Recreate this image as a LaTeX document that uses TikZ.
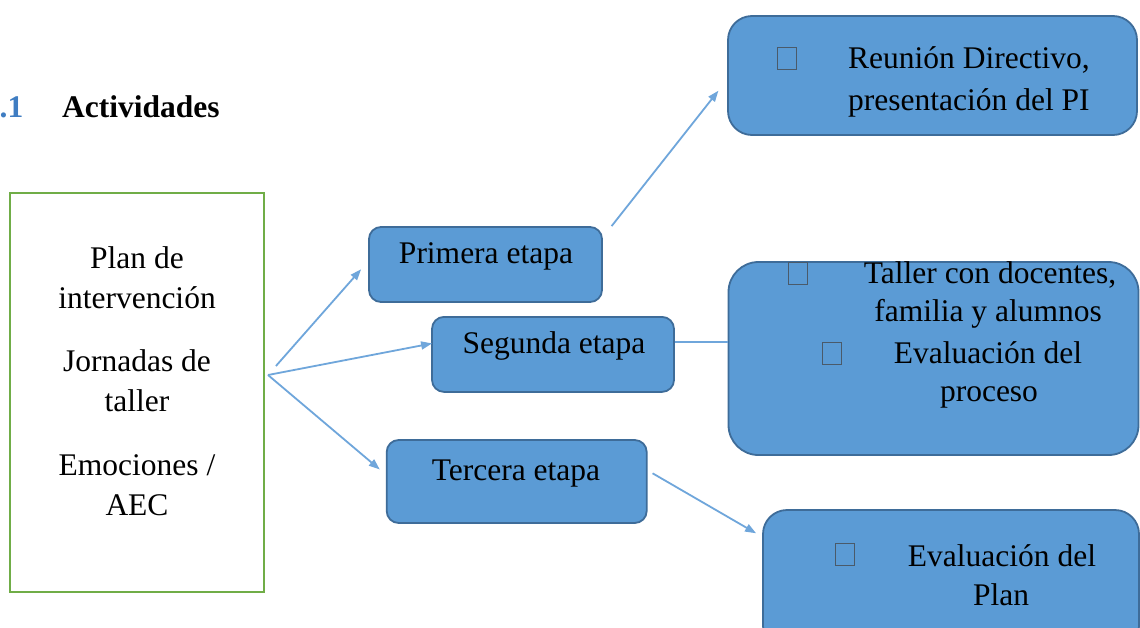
\documentclass[tikz,border=0pt]{standalone}
\usepackage{fontspec}
\setmainfont{Liberation Serif}
\usetikzlibrary{arrows.meta,calc}
\definecolor{boxfill}{HTML}{5B9BD5}
\definecolor{boxline}{HTML}{3E6C99}
\definecolor{arrowc}{HTML}{6FA6DB}
\definecolor{greenl}{HTML}{70AD47}
\definecolor{titleblue}{HTML}{3F7DC2}
\definecolor{tofuc}{HTML}{4A5A6A}
\begin{document}
\begin{tikzpicture}[x=1pt,y=-1pt,
  txt/.style={inner sep=0pt,anchor=base,font=\fontsize{31.5}{40}\selectfont},
  stage/.style={draw=boxline,fill=boxfill,line width=1.8pt,rounded corners=#1,inner sep=0pt},
  stage/.default=12pt,
  tofu/.style={draw=tofuc,line width=0.6pt,minimum width=19pt,minimum height=22pt,inner sep=0pt},
  arr/.style={draw=arrowc,line width=1.8pt,-{Triangle[length=11pt,width=8pt]}},
  conn/.style={draw=arrowc,line width=1.8pt}]
\useasboundingbox (0,0) rectangle (1140,627);
\fill[white] (0,0) rectangle (1140,627);
% title
\node[txt,anchor=base east,font=\fontsize{31.5}{40}\selectfont\bfseries,text=titleblue] (num) at (23.5,117) {0.1};
\node[txt,anchor=base west,font=\fontsize{31.5}{40}\selectfont\bfseries] (tit) at (62,117) {Actividades};
% left box
\node[draw=greenl,line width=1.8pt,fill=white,minimum width=254pt,minimum height=399pt,inner sep=0pt] (left) at (137,392.5) {};
\node[txt] (l1) at (137,268) {Plan de};
\node[txt] (l2) at (137,308) {intervención};
\node[txt] (l3) at (137,371.5) {Jornadas de};
\node[txt] (l4) at (137,411.5) {taller};
\node[txt] (l5) at (137,475) {Emociones /};
\node[txt] (l6) at (137,515) {AEC};
% stages
\node[stage,minimum width=233pt,minimum height=75pt] (p1) at (485.5,264.5) {};
\node[txt] (p1t) at (486,263) {Primera etapa};
\node[stage,minimum width=242pt,minimum height=75pt] (s2) at (553,354.4) {};
\node[txt] (s2t) at (554,353) {Segunda etapa};
\node[stage,minimum width=260pt,minimum height=83pt] (t3) at (516.7,481.5) {};
\node[txt] (t3t) at (516,480) {Tercera etapa};
% right boxes
\node[stage=24pt,minimum width=409pt,minimum height=119pt] (r1) at (932.5,75.5) {};
\node[tofu] (q1) at (787,58) {};
\node[txt,anchor=base west] (r1a) at (848,68) {Reunión Directivo,};
\node[txt,anchor=base west] (r1b) at (848,110) {presentación del PI};
\node[stage=30pt,minimum width=410pt,minimum height=193pt] (r2) at (933.5,358.5) {};
\node[tofu] (q2) at (798,273) {};
\node[txt] (r2a) at (990,283) {Taller con docentes,};
\node[txt] (r2b) at (988,321.5) {familia y alumnos};
\node[tofu] (q3) at (832,353) {};
\node[txt] (r2c) at (988,363) {Evaluación del};
\node[txt] (r2d) at (989,401.5) {proceso};
\node[stage=24pt,minimum width=376pt,minimum height=140pt] (r3) at (951,580) {};
\node[tofu] (q4) at (845,554.5) {};
\node[txt] (r3a) at (1002,566.5) {Evaluación del};
\node[txt] (r3b) at (1001,605) {Plan};
% connectors
\coordinate (fork) at (268,375);
\draw[arr,shorten <=12pt] (fork) -- ($(p1.west)+(-7,4.8)$);
\draw[arr] (fork) -- ($(s2.west)+(1,-11)$);
\draw[arr] (fork) -- ($(t3.west)+(-6,-12)$);
\draw[arr] ($(p1.north east)+(8.7,0)$) -- ($(r1.west)+(-8.7,15.2)$);
\coordinate (m2) at ($(s2.east)+(0,-12.7)$);
\draw[conn] (m2) -- (m2 -| r2.west);
\draw[arr] ($(t3.east)+(5,-8.2)$) -- ($(r3.west)+(-6,-46.7)$);
\end{tikzpicture}
\end{document}
